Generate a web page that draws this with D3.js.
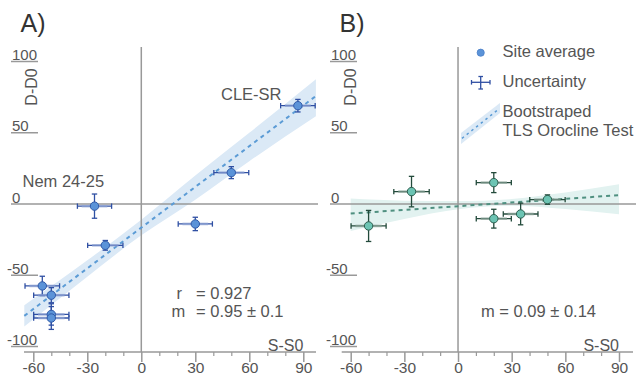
<!DOCTYPE html>
<html>
<head>
<meta charset="utf-8">
<script src="https://cdn.jsdelivr.net/npm/d3@7"></script>
<style>
  body { margin: 0; background: #fff; }
  text { font-family: "Liberation Sans", Arial, sans-serif; fill: #555; }
</style>
</head>
<body>
<div id="chart"></div>
<script>
/* global d3 */

/* tick values */
var xTicks = [-60, -30, 0, 30, 60, 90];
var xMinor = [-50, -40, -20, -10, 10, 20, 40, 50, 70, 80];
var yTicks = [100, 50, 0, -50, -100];

/* panel A: site averages and uncertainties */
var aX = [87, 50, -26, 30, -20, -55, -50, -50, -50];
var aY = [69, 22, -1.5, -14, -29, -57.5, -64, -77.5, -80];
var aXErr = [9.6, 9.7, 9.5, 9.5, 9.8, 9.6, 9.8, 9.8, 9.8];
var aYErr = [4.4, 4.2, 8.5, 4.7, 3.4, 6.8, 5.3, 7.5, 8];

/* panel A: bootstrapped TLS fit and band */
var aFitX = [-65, 97];
var aFitY = [-78.5, 75.8];
var aBandX = [-65, -30, 0, 30, 60, 97];
var aBandLo = [-86, -51, -22, 3, 30, 61.5];
var aBandHi = [-71, -39.5, -11, 20, 50, 87.5];

/* panel B */
var bX = [20, -26, -50, 20, 35, 50];
var bY = [15, 8.7, -15.4, -10.3, -7, 3.1];
var bXErr = [9.8, 9.9, 9.8, 9.8, 9.7, 9.9];
var bYErr = [7, 10.7, 10.9, 6.6, 7.6, 3.3];

var bFitX = [-60, 90];
var bFitY = [-6.7, 6.2];
var bBandX = [-60, -30, 0, 30, 60, 90];
var bBandLo = [-19, -10.5, -3.7, -1.2, -3.5, -7.2];
var bBandHi = [3.8, 2.3, 2.1, 3.5, 8, 13.8];

var W = 636, H = 379;

var svg = d3.select("#chart").append("svg")
  .attr("width", W)
  .attr("height", H);

/**
 * Draws one panel (axes, band, fit line, error bars, points)
 */
function drawPanel(p) {
  var x = d3.scaleLinear().domain([-60, 90]).range(p.xRange);
  var y = d3.scaleLinear().domain([-100, 100]).range([346.5, 61.5]);
  var g = svg.append("g");

  /* confidence band of the fit */
  var band = p.bandX.map(function(d, i) {
    return { x: d, lo: p.bandLo[i], hi: p.bandHi[i] };
  });
  g.append("path")
    .datum(band)
    .attr("fill", p.bandColor)
    .attr("d", d3.area()
      .x(function(d) { return x(d.x); })
      .y0(function(d) { return y(d.lo); })
      .y1(function(d) { return y(d.hi); })
      .curve(d3.curveMonotoneX));

  /* y ticks: short underlines with labels */
  yTicks.forEach(function(v) {
    var yy = y(v);
    g.append("line")
      .attr("x1", p.yTickX).attr("x2", v === 0 ? p.zeroEnd : p.yTickX + 27)
      .attr("y1", yy).attr("y2", yy)
      .attr("stroke", "#999").attr("stroke-width", 1.5);
    var txt = String(Math.abs(v));
    g.append("text")
      .attr("x", p.yTickX + 1).attr("y", yy - 1.5)
      .style("font-size", "15px")
      .text(txt);
    if (v < 0) {
      g.append("text")
        .attr("x", p.yTickX + 1).attr("y", yy - 1.5)
        .attr("text-anchor", "end")
        .style("font-size", "15px")
        .text("-");
    }
  });

  /* vertical zero line */
  g.append("line")
    .attr("x1", x(0)).attr("x2", x(0))
    .attr("y1", 47).attr("y2", 352)
    .attr("stroke", "#999").attr("stroke-width", 1.5);

  /* x axis */
  var axisY = 352;
  g.append("line")
    .attr("x1", p.axisStart).attr("x2", p.axisEnd)
    .attr("y1", axisY).attr("y2", axisY)
    .attr("stroke", "#999").attr("stroke-width", 1.5);

  var ax = g.append("g")
    .attr("transform", "translate(0," + axisY + ")")
    .call(d3.axisBottom(x).tickValues(xTicks).tickSize(10).tickPadding(0)
      .tickFormat(function(d) { return String(d); }));
  ax.select(".domain").remove();
  ax.selectAll("line").attr("stroke", "#999").attr("stroke-width", 1.5);
  ax.selectAll("text")
    .style("font-family", "'Liberation Sans', Arial, sans-serif")
    .style("font-size", "15.5px")
    .attr("fill", "#555");

  var axm = g.append("g")
    .attr("transform", "translate(0," + axisY + ")")
    .call(d3.axisBottom(x).tickValues(xMinor).tickSize(4).tickFormat(""));
  axm.select(".domain").remove();
  axm.selectAll("line").attr("stroke", "#999").attr("stroke-width", 1.2);

  /* axis labels */
  g.append("text")
    .attr("x", x(90)).attr("y", 350.5)
    .attr("text-anchor", "end")
    .style("font-size", "16px")
    .text("S-S0");

  g.append("text")
    .attr("transform", "translate(" + (p.yTickX + 25.5) + ",87) rotate(-90)")
    .attr("text-anchor", "middle")
    .style("font-size", "16px")
    .text("D-D0");

  /* panel letter */
  g.append("text")
    .attr("x", p.yTickX + 9.5).attr("y", 32)
    .style("font-size", "25px")
    .attr("fill", "#333")
    .style("fill", "#333")
    .text(p.title);

  /* fit line */
  g.append("path")
    .datum(p.fitX.map(function(d, i) { return [d, p.fitY[i]]; }))
    .attr("fill", "none")
    .attr("stroke", p.lineColor)
    .attr("stroke-width", 2)
    .attr("stroke-dasharray", "4,4")
    .attr("d", d3.line()
      .x(function(d) { return x(d[0]); })
      .y(function(d) { return y(d[1]); }));

  /* error bars */
  var pts = p.xs.map(function(d, i) {
    return { x: d, y: p.ys[i], xe: p.xErr[i], ye: p.yErr[i] };
  });
  var cap = 2.7;
  var eb = g.selectAll(".err").data(pts).enter().append("g").attr("class", "err");

  eb.append("line")
    .attr("x1", function(d) { return x(d.x - d.xe); })
    .attr("x2", function(d) { return x(d.x + d.xe); })
    .attr("y1", function(d) { return y(d.y); })
    .attr("y2", function(d) { return y(d.y); })
    .attr("stroke", p.errColor).attr("stroke-width", 1.3);
  eb.append("line")
    .attr("x1", function(d) { return x(d.x - d.xe * 0.75); })
    .attr("x2", function(d) { return x(d.x + d.xe * 0.75); })
    .attr("y1", function(d) { return y(d.y); })
    .attr("y2", function(d) { return y(d.y); })
    .attr("stroke", p.errLight).attr("stroke-width", 2.6).attr("opacity", 0.7);
  eb.append("line")
    .attr("x1", function(d) { return x(d.x); })
    .attr("x2", function(d) { return x(d.x); })
    .attr("y1", function(d) { return y(d.y - d.ye); })
    .attr("y2", function(d) { return y(d.y + d.ye); })
    .attr("stroke", p.errColor).attr("stroke-width", 1.3);

  [-1, 1].forEach(function(s) {
    eb.append("line")
      .attr("x1", function(d) { return x(d.x + s * d.xe); })
      .attr("x2", function(d) { return x(d.x + s * d.xe); })
      .attr("y1", function(d) { return y(d.y) - cap; })
      .attr("y2", function(d) { return y(d.y) + cap; })
      .attr("stroke", p.errColor).attr("stroke-width", 1.3);
    eb.append("line")
      .attr("x1", function(d) { return x(d.x) - cap; })
      .attr("x2", function(d) { return x(d.x) + cap; })
      .attr("y1", function(d) { return y(d.y + s * d.ye); })
      .attr("y2", function(d) { return y(d.y + s * d.ye); })
      .attr("stroke", p.errColor).attr("stroke-width", 1.3);
  });

  /* site averages */
  g.selectAll(".pt").data(pts).enter().append("circle")
    .attr("class", "pt")
    .attr("cx", function(d) { return x(d.x); })
    .attr("cy", function(d) { return y(d.y); })
    .attr("r", 4.2)
    .attr("fill", p.ptFill)
    .attr("stroke", p.ptStroke)
    .attr("stroke-width", 1);

  return { g: g, x: x, y: y };
}

var A = drawPanel({
  title: "A)", xRange: [33.3, 303.3], yTickX: 11, zeroEnd: 318,
  axisStart: 24, axisEnd: 316,
  xs: aX, ys: aY, xErr: aXErr, yErr: aYErr,
  fitX: aFitX, fitY: aFitY, bandX: aBandX, bandLo: aBandLo, bandHi: aBandHi,
  bandColor: "#dbe9f6", lineColor: "#5b9bd5",
  errColor: "#2f4fa3", errLight: "#8da2d4",
  ptFill: "#5b93d8", ptStroke: "#2f59a8"
});

var B = drawPanel({
  title: "B)", xRange: [350.7, 619], yTickX: 330, zeroEnd: 636,
  axisStart: 341.7, axisEnd: 633,
  xs: bX, ys: bY, xErr: bXErr, yErr: bYErr,
  fitX: bFitX, fitY: bFitY, bandX: bBandX, bandLo: bBandLo, bandHi: bBandHi,
  bandColor: "#e2f2f0", lineColor: "#4f9080",
  errColor: "#234a3b", errLight: "#8aa398",
  ptFill: "#6cc4b3", ptStroke: "#2d5e4f"
});

/* annotations */
A.g.append("text").attr("x", 221).attr("y", 99.5).style("font-size", "16.5px").text("CLE-SR");
A.g.append("text").attr("x", 22.5).attr("y", 186.5).style("font-size", "16.5px").text("Nem 24-25");
A.g.append("text").attr("x", 176.5).attr("y", 299).style("font-size", "16.5px").text("r");
A.g.append("text").attr("x", 196).attr("y", 299).style("font-size", "16.5px").text("= 0.927");
A.g.append("text").attr("x", 171.5).attr("y", 317).style("font-size", "16.5px").text("m");
A.g.append("text").attr("x", 196).attr("y", 317).style("font-size", "16.5px").text("= 0.95 \u00b1 0.1");

B.g.append("text").attr("x", 481).attr("y", 317).style("font-size", "16.5px").text("m = 0.09 \u00b1 0.14");

/* legend */
var lg = svg.append("g");
lg.append("circle").attr("cx", 480.7).attr("cy", 52.7).attr("r", 3.6)
  .attr("fill", "#5b93d8").attr("stroke", "#4a7fc8").attr("stroke-width", 0.8);
lg.append("text").attr("x", 502.5).attr("y", 57.3).style("font-size", "16.5px").text("Site average");

lg.append("line").attr("x1", 471.5).attr("x2", 490).attr("y1", 82.3).attr("y2", 82.3)
  .attr("stroke", "#2f4fa3").attr("stroke-width", 1.3);
lg.append("line").attr("x1", 480.7).attr("x2", 480.7).attr("y1", 76.5).attr("y2", 89)
  .attr("stroke", "#2f4fa3").attr("stroke-width", 1.3);
[471.5, 490].forEach(function(cx) {
  lg.append("line").attr("x1", cx).attr("x2", cx).attr("y1", 80).attr("y2", 84.6)
    .attr("stroke", "#2f4fa3").attr("stroke-width", 1.3);
});
[76.5, 89].forEach(function(cy) {
  lg.append("line").attr("x1", 478.4).attr("x2", 483).attr("y1", cy).attr("y2", cy)
    .attr("stroke", "#2f4fa3").attr("stroke-width", 1.3);
});
lg.append("text").attr("x", 502.5).attr("y", 87.3).style("font-size", "16.5px").text("Uncertainty");

lg.append("path")
  .attr("d", "M461,133 L500,103 L500,113 L461,144 Z")
  .attr("fill", "#dbe9f6");
lg.append("line").attr("x1", 462).attr("y1", 138.3).attr("x2", 499.5).attr("y2", 108.5)
  .attr("stroke", "#5b9bd5").attr("stroke-width", 1.5).attr("stroke-dasharray", "2.5,3.5");
lg.append("text").attr("x", 502.5).attr("y", 117.3).style("font-size", "16.5px").text("Bootstraped");
lg.append("text").attr("x", 502.5).attr("y", 136).style("font-size", "16.5px").text("TLS Orocline Test");
</script>
</body>
</html>
